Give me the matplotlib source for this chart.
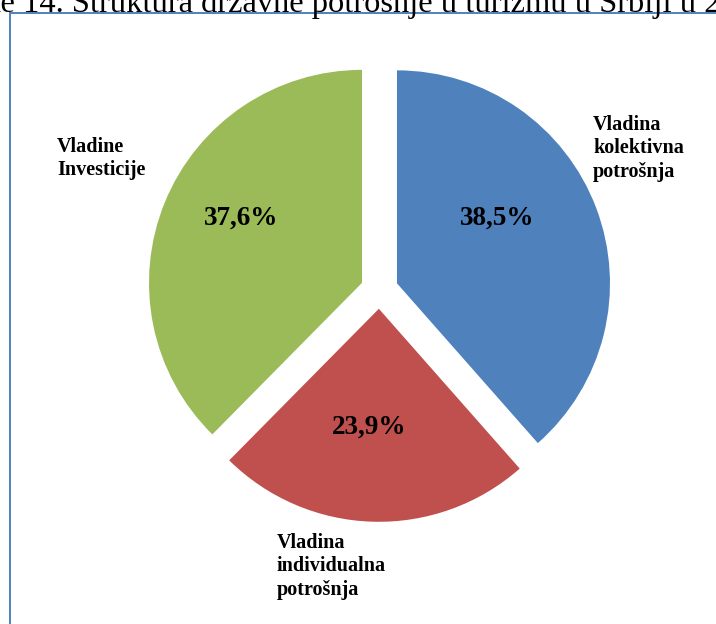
import matplotlib.pyplot as plt
from matplotlib.patches import Rectangle

# data
categories = ['Vladina\nkolektivna\npotrošnja', 'Vladina\nindividualna\npotrošnja', 'Vladine\nInvesticije']
shares = [38.5, 23.9, 37.6]
colors = ['#4F81BD', '#C0504D', '#9BBB59']

# figure in pixel coordinates (716x624)
W, H = 716, 624
fig = plt.figure(figsize=(W / 100, H / 100), dpi=100)
ax = fig.add_axes([0, 0, 1, 1])

# caption, cut off at the top of the image
ax.text(-52, H - 12, 'Slike 14. Struktura državne potrošnje u turizmu u Srbiji u 2010.',
        family='Liberation Serif', fontsize=23.4, ha='left', va='baseline', color='black')

# frame around the chart
ax.add_patch(Rectangle((10, -20), W + 50, H - 13 + 20, fill=False,
                       edgecolor='#4F81BD', linewidth=1.4))

# explode is in data units here (radius is given in pixels)
wedges, _ = ax.pie(shares, colors=colors, startangle=90, counterclock=False,
                   explode=[18.8] * len(shares), center=(379.4, H - 290), radius=213,
                   wedgeprops=dict(edgecolor='none'), frame=True)
ax.set_xlim(0, W)
ax.set_ylim(0, H)
ax.axis('off')

# percent labels inside slices
pct_pos = [(497.5, H - 218), (369.5, H - 427), (241, H - 218)]
for v, (x, y) in zip(shares, pct_pos):
    ax.text(x, y, f'{v:.1f}%'.replace('.', ','), family='Liberation Serif',
            fontweight='bold', fontsize=19.5, ha='center', va='center')

# category labels outside
cat_pos = [(593, H - 115), (277, H - 533), (57, H - 137)]
for lab, (x, y) in zip(categories, cat_pos):
    ax.text(x, y, lab, family='Liberation Serif', fontweight='bold', fontsize=14.5,
            ha='left', va='top', linespacing=1.22)

fig.savefig('out.png', dpi=100)
